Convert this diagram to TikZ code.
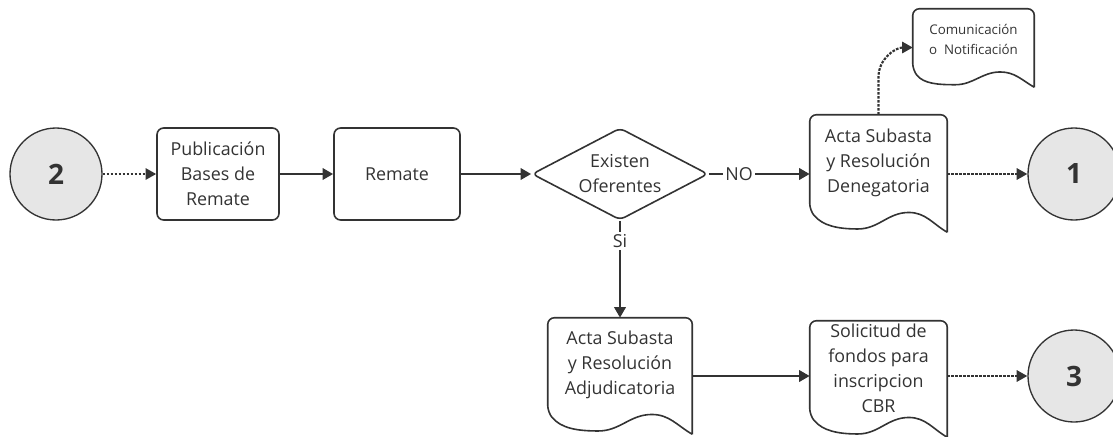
\documentclass[tikz,border=0pt]{standalone}
\usepackage{fontspec}
\setmainfont{Open Sans}
\usetikzlibrary{shapes.geometric,arrows.meta,calc}
\definecolor{ink}{HTML}{333333}
\definecolor{bubble}{HTML}{E6E6E6}
\newcommand{\txtfont}{\fontsize{13.4}{18.75}\selectfont}
\tikzset{
  flow/.style={ink, line width=2pt, -{Triangle[length=8pt,width=8.5pt]}},
  dotflow/.style={flow, densely dotted, line width=1.6pt},
  procbox/.style={draw=ink, line width=1.2pt, rounded corners=5pt, minimum height=69pt,
    inner sep=0pt, align=center, text=ink, font=\txtfont},
  docbox/.style={inner sep=0pt, align=center, text=ink, font=\txtfont},
  docline/.style={draw=ink, line width=1.2pt},
  decide/.style={diamond, draw=ink, line width=1.2pt, aspect=2, rounded corners=4pt,
    inner sep=0pt, minimum width=132pt, minimum height=69pt, align=center, text=ink, font=\txtfont},
  conn/.style={circle, draw=ink, line width=1pt, fill=bubble, minimum size=69pt,
    inner sep=0pt, text=ink, font=\bfseries\fontsize{21}{26}\selectfont},
  lbl/.style={fill=white, inner sep=2pt, text=ink, font=\txtfont}
}
\begin{document}
\begin{tikzpicture}[x=0.75pt,y=0.75pt]
    \useasboundingbox (0,0) rectangle (1113,-436);
    % top row
    \node[conn] (c2) at (56,-174) {2};
    \node[procbox, minimum width=91.5pt] (pub) at (218,-174) {Publicación\\Bases de\\Remate};
    \node[procbox, minimum width=94.5pt] (rem) at (397,-174) {Remate};
    \node[decide] (ofe) at (620,-174) {Existen\\Oferentes};
    \node[docbox, minimum width=102.75pt, minimum height=71.25pt] (den) at (878.5,-162.5) {Acta Subasta\\y Resolución\\Denegatoria};
    \node[docbox, minimum width=90.75pt, minimum height=45.75pt, font=\fontsize{10}{15}\selectfont] (com) at (973.5,-39.5) {Comunicación\\o\ \ Notificación};
    \node[conn] (c1) at (1074,-174) {1};
    % bottom row
    \node[docbox, minimum width=108pt, minimum height=70.5pt] (adj) at (620,-365) {Acta Subasta\\y Resolución\\Adjudicatoria};
    \node[docbox, minimum width=102.75pt, minimum height=70.5pt] (sol) at (878.5,-368) {Solicitud de\\fondos para\\inscripcion\\CBR};
    \node[conn] (c3) at (1074,-376) {3};

    % document outlines with wavy bottom
    \foreach \n/\d in {den/22, com/17, adj/22, sol/22}
    \draw[docline] ($(\n.south east)+(0,-\d)$) [rounded corners=5pt] -- (\n.north east)
        -- (\n.north west) -- (\n.south west) [sharp corners]
        to[out=-50,in=180] ($(\n.south west)!0.35!(\n.south east)+(0,-0.85*\d)$)
        to[out=0,in=180] ($(\n.south west)!0.72!(\n.south east)+(0,-0.1*\d)$)
        to[out=0,in=150] ($(\n.south east)+(0,-\d)$);

    % connectors
    \draw[dotflow] (c2) -- (pub);
    \draw[flow] (pub) -- (rem);
    \draw[flow] (rem) -- (ofe);
    \draw[flow] (ofe.east) -- (ofe.east -| den.west) node[lbl, pos=0.3] (no) {NO};
    \draw[dotflow] (c1 -| den.east) -- (c1);
    \draw[dotflow] (den.north) -- ++(0,38) to[out=90,in=180] ([yshift=-6pt]com.west);
    \draw[flow] (ofe.south) -- (adj.north) node[lbl, pos=0.21] (si) {Si};
    \draw[flow] (c3 -| adj.east) -- (c3 -| sol.west);
    \draw[dotflow] (c3 -| sol.east) -- (c3);
\end{tikzpicture}
\end{document}
